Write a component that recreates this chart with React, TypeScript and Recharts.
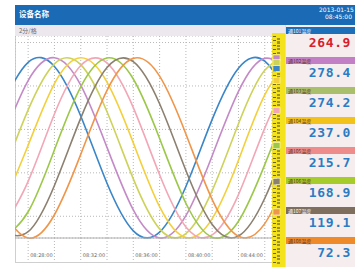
import { CartesianGrid, Line, LineChart, ReferenceDot, XAxis, YAxis } from "recharts";

// minutes from 08:28:00, one sample every 2 min (2分/格 grid)
const minutes = [-2, 0, 2, 4, 6, 8, 10, 12, 14, 16, 18, 20];
const ch1 = [60.9, 80.9, 79.0, 56.2, 25.2, 3.3, 2.7, 23.7, 54.6, 78.2, 81.4, 62.3];
const ch2 = [44.7, 72.5, 83.0, 70.4, 41.7, 12.9, 0.0, 10.3, 37.9, 67.5, 82.7, 74.9];
const ch3 = [28.1, 59.0, 80.2, 79.8, 58.1, 27.2, 4.2, 2.0, 21.8, 52.6, 77.2, 81.9];
const ch4 = [13.6, 42.7, 71.1, 83.0, 71.8, 43.8, 14.4, 0.2, 8.9, 35.8, 65.9, 82.3];
const ch5 = [3.7, 26.1, 57.1, 79.4, 80.6, 60.0, 29.1, 5.1, 1.4, 20.0, 50.6, 76.1];
const ch6 = [0.0, 12.1, 40.6, 69.6, 82.9, 73.2, 45.8, 16.0, 0.4, 7.7, 33.8, 64.2];
const ch7 = [3.1, 2.9, 24.2, 55.2, 78.5, 81.2, 61.8, 31.1, 6.2, 0.9, 18.3, 48.6];
const ch8 = [12.5, 0.0, 10.7, 38.5, 68.0, 82.7, 74.5, 47.9, 17.7, 0.8, 6.6, 31.8];

// marker positions on the yellow scale (value at the right edge)
const endValues = [78.1, 82.9, 80.8, 72.4, 58.8, 42.5, 26.0, 12.0];

const channelNames = ["通101温度", "通102温度", "通103温度", "通104温度", "通105温度", "通106温度", "通107温度", "通108温度"];
const readings = ["264.9", "278.4", "274.2", "237.0", "215.7", "168.9", "119.1", "72.3"];
const lineColors = ["#3a86c8", "#c48ac8", "#cdd25a", "#f4cf3c", "#f2a6b6", "#9cc84a", "#8c8070", "#f0964a"];
const headerColors = ["#1e6fba", "#c27fc6", "#a9bf6c", "#f2c21a", "#ee8c8c", "#a6cc2c", "#7d6e5e", "#ef8a2a"];

const gridMinutes = [0, 2, 4, 6, 8, 10, 12, 14, 16, 18];
const labelMinutes = [0, 4, 8, 12, 16];
const labelTexts = ["08:28:00", "08:32:00", "08:36:00", "08:40:00", "08:44:00"];
const yTicks = [0, 10, 20, 30, 40, 50, 60, 70, 80, 90];
const xMax = 18.55;

const series = [ch1, ch2, ch3, ch4, ch5, ch6, ch7, ch8];
const rows = minutes.map((t, i) => {
  const row: Record<string, number> = { t };
  series.forEach((s, k) => {
    row[`c${k}`] = s[i];
  });
  return row;
});

function TimeTick({ x, y, payload }: any) {
  const idx = labelMinutes.indexOf(payload.value);
  return (
    <g>
      <line x1={x} x2={x} y1={y} y2={y + 23} stroke="#b8b8b8" strokeDasharray="1 2" />
      {idx >= 0 && (
        <text x={x + 2} y={y + 19} fontSize={5} fill="#666" fontFamily="DejaVu Sans">
          {labelTexts[idx]}
        </text>
      )}
    </g>
  );
}

export default function App() {
  return (
    <div
      style={{
        position: "fixed",
        left: 0,
        top: 0,
        width: 355,
        height: 267,
        background: "#fff",
        overflow: "hidden",
        fontFamily: '"Noto Sans CJK SC", "Noto Sans", sans-serif',
      }}
    >
      {/* title bar */}
      <div style={{ position: "absolute", left: 15, top: 5, width: 340, height: 20, background: "#1a6ab5" }} />
      <div style={{ position: "absolute", left: 19, top: 9, color: "#fff", fontSize: 7.5, fontWeight: 700, lineHeight: "10px" }}>
        设备名称
      </div>
      <div style={{ position: "absolute", left: 319, top: 6, color: "#fff", fontSize: 6, lineHeight: "7px", whiteSpace: "nowrap", fontFamily: "DejaVu Sans" }}>
        2013-01-15
      </div>
      <div style={{ position: "absolute", left: 325, top: 13, color: "#fff", fontSize: 6, lineHeight: "7px", whiteSpace: "nowrap", fontFamily: "DejaVu Sans" }}>
        08:45:00
      </div>

      {/* scale bar */}
      <div style={{ position: "absolute", left: 15, top: 25, width: 270, height: 11, background: "#ede8ee" }} />
      <div style={{ position: "absolute", left: 19, top: 26, color: "#666", fontSize: 6, lineHeight: "9px" }}>2分/格</div>

      {/* frame */}
      <div style={{ position: "absolute", left: 15, top: 36, width: 1, height: 227, background: "#cfcfcf" }} />
      <div style={{ position: "absolute", left: 15, top: 262, width: 257, height: 1, background: "#cfcfcf" }} />

      {/* yellow scale strip */}
      <div style={{ position: "absolute", left: 272, top: 33, width: 13, height: 234, background: "#f3e21c" }} />
      <div
        style={{
          position: "absolute",
          left: 273,
          top: 36,
          width: 3,
          height: 228,
          background: "repeating-linear-gradient(to bottom, #6a6420 0 1px, transparent 1px 4.34px)",
        }}
      />
      <div
        style={{
          position: "absolute",
          left: 277,
          top: 38,
          width: 3,
          height: 226,
          background: "repeating-linear-gradient(to bottom, #7a7030 0 2px, transparent 2px 3.5px)",
          opacity: 0.7,
        }}
      />

      <div style={{ position: "absolute", left: 15, top: 36 }}>
        <LineChart width={270} height={226} data={rows} margin={{ top: 0, right: 13, bottom: 0, left: 0 }}>
          <CartesianGrid strokeDasharray="1 2" stroke="#b8b8b8" />
          <XAxis
            dataKey="t"
            type="number"
            domain={[-1, xMax]}
            allowDataOverflow
            ticks={gridMinutes}
            interval={0}
            tickLine={false}
            tickSize={0}
            tickMargin={0}
            axisLine={{ stroke: "#b0b0b0" }}
            tick={<TimeTick />}
            height={24}
          />
          <YAxis hide type="number" domain={[0, 93]} ticks={yTicks} />
          {series.map((_, k) => (
            <Line
              key={k}
              type="natural"
              dataKey={`c${k}`}
              stroke={lineColors[k]}
              strokeWidth={1.6}
              dot={false}
              isAnimationActive={false}
            />
          ))}
          {endValues.map((v, k) => (
            <ReferenceDot
              key={`m${k}`}
              x={xMax}
              y={v}
              shape={(p: any) => (
                <rect x={p.cx + 1} y={p.cy - 3} width={7} height={6} fill={lineColors[k]} stroke="#fff" strokeWidth={0.5} />
              )}
            />
          ))}
        </LineChart>
      </div>

      {/* channel panel */}
      <div style={{ position: "absolute", left: 285, top: 25, width: 70, height: 242, background: "#f6eeee", borderLeft: "1px solid #ddd" }} />
      {channelNames.map((name, k) => (
        <div key={name}>
          <div
            style={{
              position: "absolute",
              left: 286,
              top: 27 + 30 * k,
              width: 69,
              height: 7,
              background: headerColors[k],
            }}
          />
          <div
            style={{
              position: "absolute",
              left: 288,
              top: 27 + 30 * k,
              fontSize: 5,
              lineHeight: "7px",
              color: k === 0 || k === 6 ? "#fff" : "#5a3020",
              whiteSpace: "nowrap",
            }}
          >
            {name}
          </div>
          <div
            style={{
              position: "absolute",
              right: 4,
              top: 35 + 30 * k,
              fontSize: 13,
              lineHeight: "16px",
              fontWeight: 700,
              letterSpacing: 0.6,
              fontFamily: '"DejaVu Sans Mono", monospace',
              color: k === 0 ? "#d8202a" : "#2b7cc4",
              whiteSpace: "nowrap",
            }}
          >
            {readings[k]}
          </div>
        </div>
      ))}
    </div>
  );
}
